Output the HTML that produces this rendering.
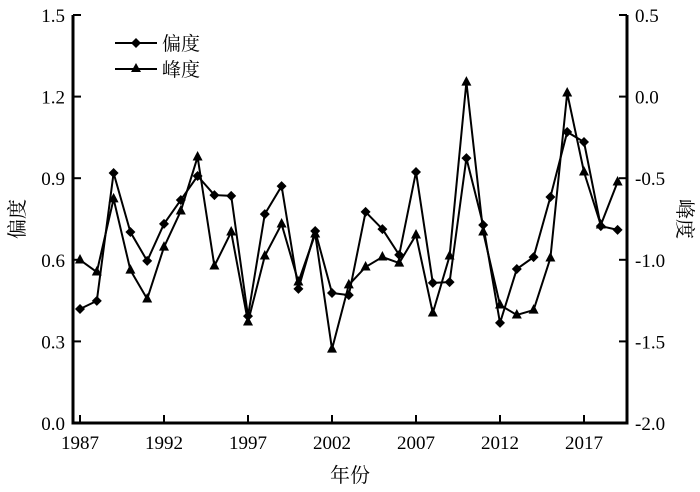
<!DOCTYPE html>
<html><head><meta charset="utf-8"><style>
body{margin:0;background:#fff}
svg{display:block;font-family:"Liberation Serif","Noto Serif CJK SC",serif}
</style></head><body>
<svg id="chart" width="700" height="492" viewBox="0 0 700 492">
<g id="axes"></g><g id="series"></g>
<g>
 <g>
  <line x1="115" y1="43" x2="157" y2="43" stroke="#000" stroke-width="2"/>
  <path d="M136 38 L141 43 L136 48 L131 43 Z" fill="#000"/>
  <text x="162" y="50" font-size="19">偏度</text>
 </g>
 <g>
  <line x1="115" y1="69" x2="157" y2="69" stroke="#000" stroke-width="2"/>
  <path d="M136 63 L141 72 L131 72 Z" fill="#000"/>
  <text x="162" y="76" font-size="19">峰度</text>
 </g>
</g>
</svg>
<script>
const years=[1987,1988,1989,1990,1991,1992,1993,1994,1995,1996,1997,1998,1999,2000,2001,2002,2003,2004,2005,2006,2007,2008,2009,2010,2011,2012,2013,2014,2015,2016,2017,2018,2019];
const skewness=[0.419,0.449,0.919,0.702,0.596,0.732,0.82,0.908,0.838,0.835,0.393,0.768,0.871,0.493,0.706,0.478,0.47,0.776,0.713,0.618,0.923,0.515,0.518,0.974,0.728,0.368,0.566,0.61,0.831,1.07,1.033,0.724,0.71];
const kurtosis=[-1.001,-1.075,-0.627,-1.063,-1.24,-0.922,-0.701,-0.37,-1.038,-0.83,-1.381,-0.977,-0.781,-1.136,-0.842,-1.547,-1.154,-1.044,-0.983,-1.02,-0.848,-1.326,-0.977,0.089,-0.83,-1.277,-1.338,-1.308,-0.989,0.022,-0.462,-0.787,-0.523];
const xTicks=[1987,1992,1997,2002,2007,2012,2017];
const leftTicks=[0.0,0.3,0.6,0.9,1.2,1.5];
const rightTicks=[-2.0,-1.5,-1.0,-0.5,0.0,0.5];

const NS="http://www.w3.org/2000/svg";
const L=73,R=627,T=15,B=423;
const x=y=>80+(y-1987)*16.8;
const yl=v=>B-(v-0)/1.5*(B-T);
const yr=v=>B-(v+2)/2.5*(B-T);
function mk(tag,attrs,parent,txt){const e=document.createElementNS(NS,tag);for(const k in attrs)e.setAttribute(k,attrs[k]);if(txt!==undefined)e.textContent=txt;parent.appendChild(e);return e;}
const ax=document.getElementById('axes');
let e;
e=mk('line',{x1:L,y1:T,x2:L,y2:B+1.5,stroke:'#000','stroke-width':3},ax);


e=mk('line',{x1:R,y1:T,x2:R,y2:B+1.5,stroke:'#000','stroke-width':3},ax);


e=mk('line',{x1:L-1.5,y1:B,x2:R+1.5,y2:B,stroke:'#000','stroke-width':3},ax);


xTicks.forEach(t=>{
 mk('line',{x1:x(t),y1:B,x2:x(t),y2:B-8,stroke:'#000','stroke-width':2},ax);
 e=mk('text',{x:x(t),y:B+26,'font-size':19,'text-anchor':'middle'},ax,String(t));
 
 
});
leftTicks.forEach(t=>{
 mk('line',{x1:L,y1:yl(t),x2:L+8,y2:yl(t),stroke:'#000','stroke-width':2},ax);
 e=mk('text',{x:L-8,y:yl(t)+7,'font-size':19,'text-anchor':'end'},ax,t.toFixed(1));
 
 
});
rightTicks.forEach(t=>{
 mk('line',{x1:R,y1:yr(t),x2:R-8,y2:yr(t),stroke:'#000','stroke-width':2},ax);
 e=mk('text',{x:R+8,y:yr(t)+7,'font-size':19,'text-anchor':'start'},ax,t.toFixed(1));
 
 
});
e=mk('text',{x:350,y:482,'font-size':20,'text-anchor':'middle'},ax,'年份');


e=mk('text',{x:0,y:0,'font-size':20,'text-anchor':'middle',transform:'translate(24,219) rotate(-90)'},ax,'偏度');


e=mk('text',{x:0,y:0,'font-size':20,'text-anchor':'middle',transform:'translate(678,219) rotate(90)'},ax,'峰度');



const sg=document.getElementById('series');
e=mk('polyline',{points:years.map((yy,i)=>x(yy)+','+yl(skewness[i])).join(' '),fill:'none',stroke:'#000','stroke-width':2},sg);


e=mk('polyline',{points:years.map((yy,i)=>x(yy)+','+yr(kurtosis[i])).join(' '),fill:'none',stroke:'#000','stroke-width':2},sg);


years.forEach((yy,i)=>{
 const cx=x(yy),cy=yl(skewness[i]);
 e=mk('path',{d:`M${cx} ${cy-5}L${cx+5} ${cy}L${cx} ${cy+5}L${cx-5} ${cy}Z`,fill:'#000'},sg);
 
 
 const ky=yr(kurtosis[i]);
 e=mk('path',{d:`M${cx} ${ky-6}L${cx+5} ${ky+3.5}L${cx-5} ${ky+3.5}Z`,fill:'#000'},sg);
 
 
});
</script>
</body></html>
